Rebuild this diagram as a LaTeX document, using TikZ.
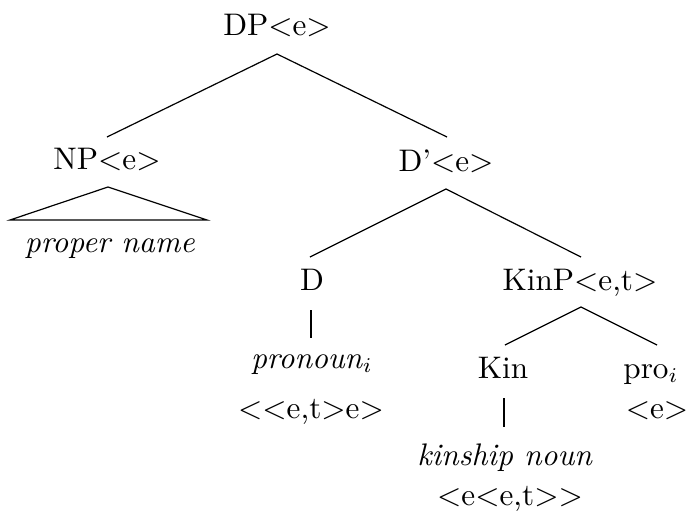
\documentclass[tikz,border=0pt]{standalone}
\usetikzlibrary{calc}
\newcommand{\lt}{<\kern0pt}
\newcommand{\gt}{>\kern0pt}
\begin{document}
\begin{tikzpicture}[x=0.3333pt,y=-0.3333pt,
  lbl/.style={inner sep=0pt,anchor=base,font=\fontsize{10.4}{12}\selectfont},
  edge/.style={line width=0.4pt}]
\useasboundingbox (0,0) rectangle (686,511);
\node[lbl] (dp) at (277,35) {DP\lt e\gt};
\node[lbl] (np) at (107,169) {NP\lt e\gt};
\node[lbl] (pn) at (110,252) {\textit{proper name}};
\node[lbl] (dbar) at (446,171) {D'\lt e\gt};
\node[lbl] (d) at (312,290) {D};
\node[lbl] (kinp) at (580,290) {KinP\lt e,t\gt};
\node[lbl] (pron) at (312,368) {\textit{pronoun}$_i$};
\node[lbl] (pront) at (311,418) {\lt\lt e,t\gt e\gt};
\node[lbl] (kin) at (503,378) {Kin};
\node[lbl] (pro) at (651,378) {pro$_i$};
\node[lbl] (prot) at (657,418) {\lt e\gt};
\node[lbl] (kn) at (505,465) {\textit{kinship noun}};
\node[lbl] (knt) at (510,505) {\lt e\lt e,t\gt\gt};
\draw[edge] ($(np.base)+(0,-32)$) -- ($(dp.base)+(0,19)$) -- ($(dbar.base)+(1,-34)$);
\draw[edge] ($(np.base)+(1,18)$) -- ($(np.base)+(-97,51)$) -- ($(np.base)+(100,51)$) -- cycle;
\draw[edge] ($(d.base)+(-2,-33)$) -- ($(dbar.base)+(0,18)$) -- ($(kinp.base)+(1,-33)$);
\draw[edge] ($(d.base)+(-1,20)$) -- ($(pron.base)+(-1,-30)$);
\draw[edge] ($(kin.base)+(1,20)$) -- ($(kn.base)+(-1,-38)$);
\draw[edge] ($(kin.base)+(2,-33)$) -- ($(kinp.base)+(1,17)$) -- ($(pro.base)+(6,-33)$);
\end{tikzpicture}
\end{document}
